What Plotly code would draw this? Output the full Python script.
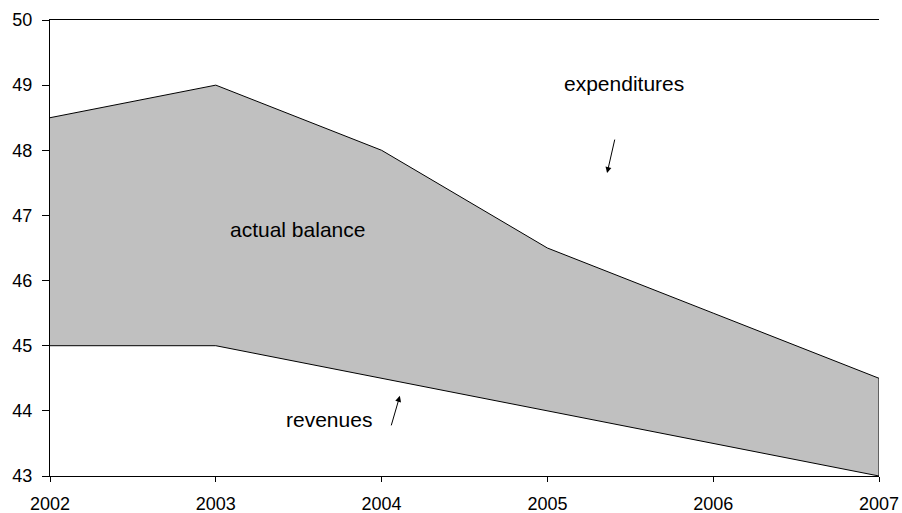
import plotly.graph_objects as go

years = [2002, 2003, 2004, 2005, 2006, 2007]
expenditures = [48.5, 49.0, 48.0, 46.5, 45.5, 44.5]
revenues = [45.0, 45.0, 44.5, 44.0, 43.5, 43.0]

# closed band between the two series
band_x = years + years[::-1]
band_y = expenditures + revenues[::-1]

fig = go.Figure()
fig.add_trace(go.Scatter(
    x=band_x, y=band_y, mode="lines", fill="toself",
    fillcolor="#c0c0c0", line=dict(color="black", width=1),
    hoverinfo="skip", showlegend=False,
))

family = "Liberation Sans, Arial, sans-serif"
tick_font = dict(family=family, size=18, color="black")
label_font = dict(family=family, size=21, color="black")

fig.update_layout(
    width=902, height=513,
    margin=dict(l=50, r=23, t=20, b=37),
    paper_bgcolor="white", plot_bgcolor="white",
    font=tick_font,
    showlegend=False,
    xaxis=dict(
        range=[2002, 2007], tickvals=years, ticktext=[str(y) for y in years],
        showgrid=False, zeroline=False, showline=True, linecolor="black",
        linewidth=1, mirror=True, ticks="outside", ticklen=5,
        tickcolor="black", ticklabelstandoff=6, tickfont=tick_font,
        automargin=False,
    ),
    yaxis=dict(
        range=[43, 50], dtick=1, showgrid=False, zeroline=False,
        showline=True, linecolor="black", linewidth=1, ticks="outside",
        ticklen=7, tickcolor="black", ticklabelstandoff=6, tickfont=tick_font,
        automargin=False,
    ),
)

# text labels
fig.add_annotation(x=2005.46, y=49.02, text="expenditures", showarrow=False, font=label_font)
fig.add_annotation(x=2003.49, y=46.78, text="actual balance", showarrow=False, font=label_font)
fig.add_annotation(x=2003.68, y=43.87, text="revenues", showarrow=False, font=label_font)

# pointer arrows
fig.add_annotation(x=2005.36, y=47.65, ax=8, ay=-35, text="", showarrow=True,
                   arrowhead=2, arrowsize=1.2, arrowwidth=1, arrowcolor="black")
fig.add_annotation(x=2004.11, y=44.23, ax=-9, ay=31, text="", showarrow=True,
                   arrowhead=2, arrowsize=1.2, arrowwidth=1, arrowcolor="black")

fig.write_html("out.html")
